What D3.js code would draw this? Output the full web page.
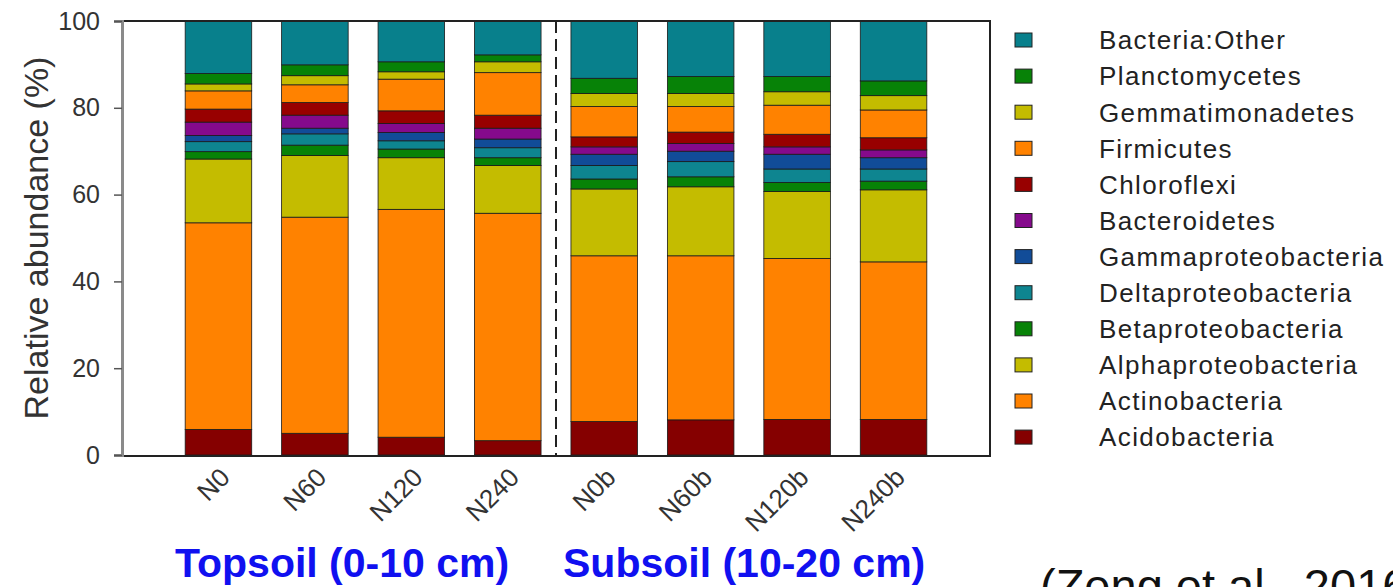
<!DOCTYPE html>
<html>
<head>
<meta charset="utf-8">
<script src="https://cdn.jsdelivr.net/npm/d3@7"></script>
<style>
  body { margin: 0; background: #fff; }
  svg { display: block; font-family: "Liberation Sans", Arial, sans-serif; }
</style>
</head>
<body>
<div id="chart"></div>
<script>
// samples (x axis)
var samples = ["N0", "N60", "N120", "N240", "N0b", "N60b", "N120b", "N240b"];

// phyla, bottom of the stack first
var phyla = ["Acidobacteria", "Actinobacteria", "Alphaproteobacteria", "Betaproteobacteria",
  "Deltaproteobacteria", "Gammaproteobacteria", "Bacteroidetes", "Chloroflexi",
  "Firmicutes", "Gemmatimonadetes", "Planctomycetes", "Bacteria:Other"];

// relative abundance (%) per sample
var acidobacteria       = [5.9, 5.0, 4.1, 3.3, 7.7, 8.1, 8.2, 8.2];
var actinobacteria      = [47.6, 49.8, 52.5, 52.4, 38.2, 37.8, 37.1, 36.3];
var alphaproteobacteria = [14.7, 14.2, 11.9, 11.0, 15.4, 15.9, 15.4, 16.6];
var betaproteobacteria  = [1.7, 2.4, 2.0, 1.8, 2.3, 2.3, 2.1, 2.0];
var deltaproteobacteria = [2.3, 2.6, 1.9, 2.3, 3.1, 3.5, 3.1, 2.8];
var gammaproteobacteria = [1.4, 1.3, 1.9, 2.0, 2.6, 2.4, 3.4, 2.6];
var bacteroidetes       = [3.1, 3.0, 2.1, 2.5, 1.7, 1.8, 1.7, 1.8];
var chloroflexi         = [3.0, 2.9, 2.9, 3.0, 2.3, 2.6, 2.9, 2.8];
var firmicutes          = [4.2, 4.1, 7.3, 9.8, 7.0, 5.9, 6.7, 6.4];
var gemmatimonadetes    = [1.6, 2.1, 1.7, 2.5, 3.0, 3.0, 3.1, 3.3];
var planctomycetes      = [2.4, 2.5, 2.3, 1.6, 3.5, 3.9, 3.5, 3.4];
var bacteriaOther       = [12.1, 10.1, 9.4, 7.8, 13.2, 12.8, 12.8, 13.8];

var yTicks = [0, 20, 40, 60, 80, 100];

var palette = ["#850000", "#ff8200", "#c4bc00", "#078207", "#0e8590", "#114c98",
  "#850a8c", "#980000", "#ff8200", "#c4bc00", "#078207", "#08808c"];

(function() {
  var seriesValues = [acidobacteria, actinobacteria, alphaproteobacteria, betaproteobacteria,
    deltaproteobacteria, gammaproteobacteria, bacteroidetes, chloroflexi, firmicutes,
    gemmatimonadetes, planctomycetes, bacteriaOther];

  var rows = samples.map(function(s, i) {
    var r = { sample: s };
    phyla.forEach(function(p, j) { r[p] = seriesValues[j][i]; });
    return r;
  });

  var width = 1393, height = 587;
  var left = 122, right = 990, top = 21, bottom = 455;

  var svg = d3.select("#chart").append("svg")
    .attr("width", width)
    .attr("height", height);

  var x = d3.scalePoint()
    .domain(samples)
    .range([left, right])
    .padding(1);

  var y = d3.scaleLinear()
    .domain([0, 100])
    .range([bottom, top]);

  var color = d3.scaleOrdinal().domain(phyla).range(palette);

  var barW = x.step() * 0.69;

  var stacked = d3.stack().keys(phyla)(rows);

  // bars
  svg.append("g").selectAll("g")
    .data(stacked)
    .enter().append("g")
    .attr("fill", function(d) { return color(d.key); })
    .selectAll("rect")
    .data(function(d) { return d; })
    .enter().append("rect")
    .attr("x", function(d) { return x(d.data.sample) - barW / 2; })
    .attr("y", function(d) { return y(d[1]); })
    .attr("width", barW)
    .attr("height", function(d) { return y(d[0]) - y(d[1]); })
    .attr("stroke", "#1a1a1a")
    .attr("stroke-width", 0.8);

  // dashed divider between topsoil and subsoil
  var mid = (x("N240") + x("N0b")) / 2;
  svg.append("line")
    .attr("x1", mid).attr("x2", mid)
    .attr("y1", top).attr("y2", bottom)
    .attr("stroke", "#222")
    .attr("stroke-width", 2)
    .attr("stroke-dasharray", "12,6");

  // frame
  svg.append("path")
    .attr("d", "M" + (left - 7) + "," + top + "H" + right + "V" + (bottom + 1) + "H" + (left - 7))
    .attr("fill", "none")
    .attr("stroke", "#222")
    .attr("stroke-width", 2);

  // y axis
  var yAxis = svg.append("g")
    .attr("transform", "translate(" + left + ",0)")
    .call(d3.axisLeft(y).tickValues(yTicks).tickSize(8).tickPadding(14));
  yAxis.select(".domain").attr("stroke", "#8a8a8a").attr("stroke-width", 3);
  yAxis.selectAll(".tick line").attr("stroke", "#555").attr("stroke-width", 1.5);
  yAxis.selectAll(".tick text")
    .attr("font-size", 25)
    .attr("fill", "#333")
    .attr("font-family", "Liberation Sans, Arial, sans-serif");

  svg.append("text")
    .attr("transform", "translate(48,238) rotate(-90)")
    .attr("text-anchor", "middle")
    .attr("font-size", 34)
    .attr("fill", "#333")
    .text("Relative abundance (%)");

  // x labels
  svg.append("g").selectAll("text")
    .data(samples)
    .enter().append("text")
    .attr("transform", function(d) {
      return "translate(" + (x(d) + 13) + "," + (bottom + 24) + ") rotate(-45)";
    })
    .attr("text-anchor", "end")
    .attr("font-size", 26)
    .attr("fill", "#333")
    .text(function(d) { return d; });

  // legend, top entry first
  var legendItems = phyla.slice().reverse();
  var legend = svg.append("g").selectAll("g")
    .data(legendItems)
    .enter().append("g")
    .attr("transform", function(d, i) { return "translate(1015," + (40 + i * 36.1) + ")"; });

  legend.append("rect")
    .attr("x", 0).attr("y", -7)
    .attr("width", 17).attr("height", 14)
    .attr("fill", function(d) { return color(d); })
    .attr("stroke", "#222")
    .attr("stroke-width", 1);

  legend.append("text")
    .attr("x", 84)
    .attr("dy", "0.36em")
    .attr("font-size", 26)
    .attr("letter-spacing", 1.4)
    .attr("fill", "#222")
    .text(function(d) { return d; });

  // group captions
  svg.append("text")
    .attr("x", 175).attr("y", 577)
    .attr("font-size", 41)
    .attr("font-weight", "bold")
    .attr("fill", "#1010f0")
    .text("Topsoil (0-10 cm)");

  svg.append("text")
    .attr("x", 563).attr("y", 577)
    .attr("font-size", 41)
    .attr("font-weight", "bold")
    .attr("fill", "#1010f0")
    .text("Subsoil (10-20 cm)");

  // citation, cropped by the bottom/right edge as in the source slide
  svg.append("text")
    .attr("x", 1040).attr("y", 602)
    .attr("font-size", 47)
    .attr("fill", "#111")
    .text("(Zeng et al., 2016)");
})();
</script>
</body>
</html>
